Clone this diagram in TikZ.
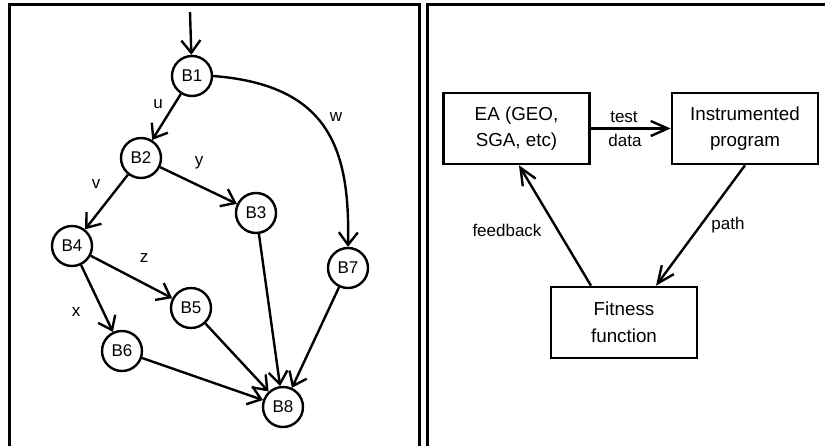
\documentclass[tikz,border=0pt]{standalone}
\usepackage{fontspec}
\setmainfont{Liberation Sans}
\usetikzlibrary{arrows.meta}
\tikzset{
  blk/.style={circle,draw,line width=2.4pt,minimum size=40pt,inner sep=0pt,font=\fontsize{17}{20}\selectfont},
  lbl/.style={inner sep=0pt,font=\fontsize{17}{20}\selectfont},
  box/.style={rectangle,draw,line width=2.6pt,minimum width=146pt,minimum height=71pt,align=center,inner sep=0pt,font=\fontsize{18.8}{26.5}\selectfont},
  edge/.style={line width=2.4pt,-{Straight Barb[length=12.5pt,width=19pt,line width=2.4pt]}},
  flow/.style={line width=2.4pt,-{Straight Barb[length=17pt,width=15pt,line width=2.4pt]}},
  panel/.style={line width=2.7pt}
}
\begin{document}
\begin{tikzpicture}[x=1pt,y=-1pt]
\useasboundingbox (0,0) rectangle (825,445);
% panels
\draw[panel] (9.5,460) -- (9.5,4.7) -- (419.5,4.7) -- (419.5,460);
\draw[panel] (427.2,460) -- (427.2,4.7) -- (840,4.7);
% control flow graph
\node[blk] (B1) at (192,76) {B1};
\node[blk] (B2) at (141,158) {B2};
\node[blk] (B3) at (256,213) {B3};
\node[blk] (B4) at (72,246) {B4};
\node[blk] (B5) at (191,308) {B5};
\node[blk] (B6) at (122,351) {B6};
\node[blk] (B7) at (348,268) {B7};
\node[blk] (B8) at (283,407) {B8};
\coordinate (entry) at (190,12);
\draw[edge] (entry) -- (B1);
\draw[edge] (B1) -- (B2);
\draw[edge] (B1.east) .. controls (330,85) and (350,150) .. (B7.north);
\draw[edge] (B2) -- (B3);
\draw[edge] (B2) -- (B4);
\draw[edge] (B4) -- (B5);
\draw[edge] (B4) -- (B6);
\draw[edge] (B3) -- (B8);
\draw[edge] (B5) -- (B8);
\draw[edge] (B6) -- (B8);
\draw[edge] (B7) -- (B8);
\node[lbl] (lu) at (158,104) {u};
\node[lbl] (lw) at (336,117) {w};
\node[lbl] (ly) at (199,163) {y};
\node[lbl] (lv) at (96,184) {v};
\node[lbl] (lz) at (144,258) {z};
\node[lbl] (lx) at (76,312) {x};
% right panel
\node[box] (EA) at (516.5,128.5) {EA (GEO,\\SGA, etc)};
\node[box] (IP) at (745,128.5) {Instrumented\\program};
\node[box] (FF) at (624,322.5) {Fitness\\function};
\draw[flow] (EA.east) -- (IP.west);
\draw[flow] (IP.south) -- ([xshift=32pt]FF.north);
\draw[flow] ([xshift=-33pt]FF.north) -- ([xshift=2.5pt]EA.south);
\node[lbl] (ltest) at (624,117) {test};
\node[lbl] (ldata) at (625,140) {data};
\node[lbl] (lpath) at (728,225) {path};
\node[lbl] (lfeed) at (507,230) {feedback};
\end{tikzpicture}
\end{document}
